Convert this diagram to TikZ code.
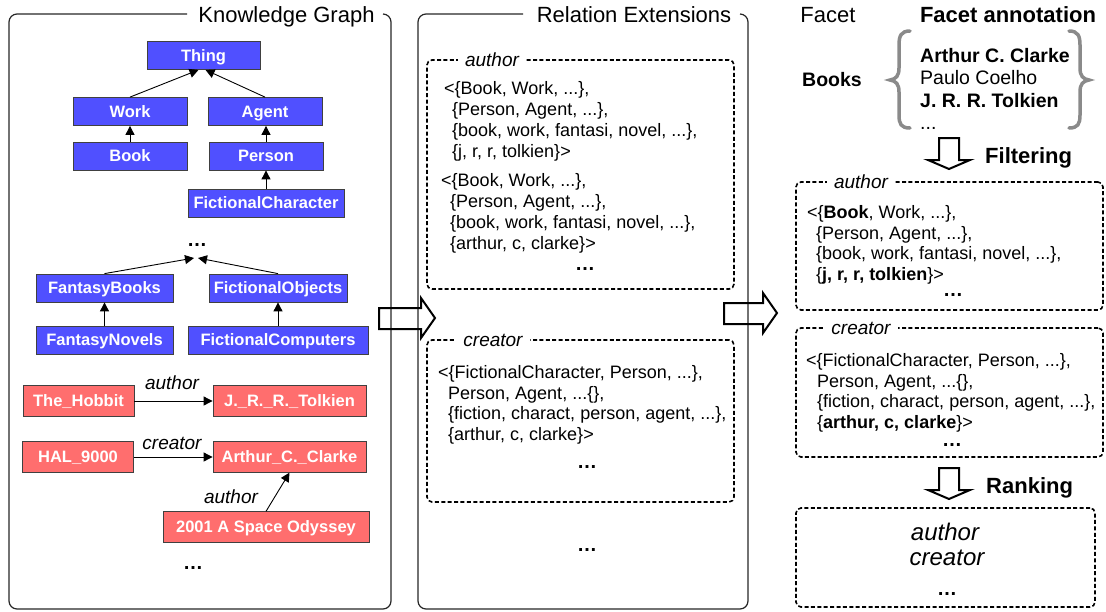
\documentclass[tikz,border=0pt]{standalone}
\usepackage{fontspec}
\setmainfont{Liberation Sans}
\usetikzlibrary{arrows.meta}
\definecolor{classblue}{RGB}{80,80,255}
\definecolor{instred}{RGB}{255,110,110}
\definecolor{bracegray}{RGB}{138,138,138}
% left-aligned stack of lines whose baseline is that of the first line
\newcommand{\relstack}[1]{\begin{tabular}[t]{@{}l@{}}#1\end{tabular}}
\begin{document}
\begin{tikzpicture}[x=1pt,y=-1pt,
  cls/.style={draw=black!75, line width=0.8pt, fill=classblue, text=white,
    font=\fontsize{16.5}{18}\selectfont\bfseries, minimum height=28pt,
    inner sep=0pt, text height=11.8pt, text depth=0pt},
  inst/.style={cls, fill=instred, minimum height=30.5pt},
  isa/.style={-{Triangle[length=9pt,width=9pt]}, line width=0.9pt},
  lbl/.style={inner sep=0pt, font=\fontsize{19}{22}\selectfont\itshape},
  panel/.style={line width=1.2pt, rounded corners=8pt, black!85},
  dbox/.style={draw, line width=1.6pt, dash pattern=on 4pt off 2.4pt,
    rounded corners=5pt, inner sep=0pt},
  boxlabel/.style={fill=white, inner xsep=7pt, inner ysep=1pt,
    font=\fontsize{19}{22}\selectfont\itshape},
  rel/.style={anchor=base west, inner sep=0pt, font=\fontsize{18}{20.5}\selectfont},
  dots/.style={anchor=base, inner sep=0pt, font=\fontsize{20}{24}\selectfont\bfseries},
  title/.style={anchor=base, inner sep=0pt, font=\fontsize{22}{26}\selectfont},
  heading/.style={anchor=base west, inner sep=0pt, font=\fontsize{22}{26}\selectfont\bfseries},
  block/.style={line width=2pt, line join=miter},
  brace/.style={draw=bracegray, line width=3.5pt, line cap=round}]

\useasboundingbox (0,0) rectangle (1106,611);

% ---------------- panel frames and titles ----------------
\draw[panel] (187,14) -- (9,14) -- (9,609) -- (391,609) -- (391,14) -- (383,14);
\node[title] (kgtitle) at (286.5,22) {Knowledge Graph};
\draw[panel] (523,14) -- (418,14) -- (418,609) -- (748,609) -- (748,14) -- (740,14);
\node[title] (retitle) at (634,22) {Relation Extensions};
\node[title] (facettitle) at (828,22) {Facet};
\node[title, font=\fontsize{22}{26}\selectfont\bfseries] (annottitle) at (1008,22) {Facet annotation};

% ---------------- knowledge graph ----------------
\node[cls, minimum width=113pt] (thing) at (203.5,55.5) {Thing};
\node[cls, minimum width=114pt] (work) at (130,111.5) {Work};
\node[cls, minimum width=114pt] (agent) at (265,111.5) {Agent};
\node[cls, minimum width=114pt] (book) at (130,156) {Book};
\node[cls, minimum width=114pt] (person) at (266,156) {Person};
\node[cls, minimum width=156pt] (fchar) at (266,203) {FictionalCharacter};
\node[dots] (kgdots) at (197,246) {…};
\coordinate (kgjoin) at (196,258);
\node[cls, minimum width=137pt] (fbooks) at (104.5,288) {FantasyBooks};
\node[cls, minimum width=138pt] (fobj) at (278,288) {FictionalObjects};
\node[cls, minimum width=137pt] (fnovels) at (104.5,340) {FantasyNovels};
\node[cls, minimum width=180pt] (fcomp) at (278,340) {FictionalComputers};

\draw[isa] (work.north) -- ([xshift=-5pt]thing.south);
\draw[isa] (agent.north) -- ([xshift=2pt]thing.south);
\draw[isa] (book) -- (work);
\draw[isa] (person.north) -- (person.north |- agent.south);
\draw[isa] (fchar.north) -- (fchar.north |- person.south);
\draw[isa] (fbooks.north) -- ([xshift=-2pt]kgjoin);
\draw[isa] (fobj.north) -- ([xshift=2pt]kgjoin);
\draw[isa] (fnovels) -- (fbooks);
\draw[isa] (fcomp.north) -- (fcomp.north |- fobj.south);

\node[inst, minimum width=111pt] (hobbit) at (78.5,401) {The\_Hobbit};
\node[inst, minimum width=153pt] (tolkien) at (289.5,401) {J.\_R.\_R.\_Tolkien};
\node[inst, minimum width=111pt] (hal) at (78,457) {HAL\_9000};
\node[inst, minimum width=153pt] (clarke) at (289.5,457) {Arthur\_C.\_Clarke};
\node[inst, minimum width=206pt] (odyssey) at (266,527) {2001 A Space Odyssey};
\node[dots] (kgdots2) at (193,569) {…};

\draw[isa] (hobbit) -- (tolkien);
\node[lbl] (lauthor1) at (172,383) {author};
\draw[isa] (hal) -- (clarke);
\node[lbl] (lcreator) at (172,443) {creator};
\draw[isa] (odyssey.north) -- (clarke.south);
\node[lbl] (lauthor2) at (231,497) {author};

% ---------------- relation extensions ----------------
\node[dbox, minimum width=307pt, minimum height=229pt] (extauthor) at (580.5,174.5) {};
\node[boxlabel] (extauthorlbl) at (492,60) {author};
\node[rel, font=\fontsize{18}{21}\selectfont] (ea1) at (444,94.5) {\relstack{<\{Book, Work, ...\},\\
  \hspace{8pt}\{Person, Agent, ...\},\\
  \hspace{8pt}\{book, work, fantasi, novel, ...\},\\
  \hspace{8pt}\{j, r, r, tolkien\}>}};
\node[rel, font=\fontsize{18}{21}\selectfont] (ea2) at (441,186.5) {\relstack{<\{Book, Work, ...\},\\
  \hspace{9pt}\{Person, Agent, ...\},\\
  \hspace{9pt}\{book, work, fantasi, novel, ...\},\\
  \hspace{9pt}\{arthur, c, clarke\}>}};
\node[dots] (eadots) at (585,270) {…};

\node[dbox, minimum width=307pt, minimum height=162pt] (extcreator) at (580.5,421) {};
\node[boxlabel] (extcreatorlbl) at (493,340) {creator};
\node[rel] (ec1) at (438,378.5) {\relstack{<\{FictionalCharacter, Person, ...\},\\
  \hspace{10pt}Person, Agent, ...\{\},\\
  \hspace{10pt}\{fiction, charact, person, agent, ...\},\\
  \hspace{10pt}\{arthur, c, clarke\}>}};
\node[dots] (ecdots) at (587,468) {…};
\node[dots] (extdots) at (587,551) {…};

% ---------------- facet annotation ----------------
\node[inner sep=0pt, font=\fontsize{19.5}{23}\selectfont\bfseries] (books) at (832,80) {Books};
\draw[brace] (910,31) .. controls (901,31) and (899,36) .. (899,45) -- (899,68)
  .. controls (899,76) and (896,79) .. (890,80) .. controls (896,81) and (899,84) .. (899,92)
  -- (899,115) .. controls (899,124) and (901,128) .. (910,128);
\draw[brace] (1069,31) .. controls (1078,31) and (1080,36) .. (1080,45) -- (1080,68)
  .. controls (1080,76) and (1083,79) .. (1089,80) .. controls (1083,81) and (1080,84) .. (1080,92)
  -- (1080,115) .. controls (1080,124) and (1078,128) .. (1069,128);
\node[rel, font=\fontsize{19.5}{22.5}\selectfont] (authors) at (920,62) {\relstack{\textbf{Arthur C. Clarke}\\
  Paulo Coelho\\
  \textbf{J. R. R. Tolkien}\\
  ...}};

% Filtering step
\draw[block] (939,138) -- (959,138) -- (959,160) -- (970,160) -- (949,169)
  -- (928,160) -- (939,160) -- cycle;
\node[heading] (filtering) at (985,163) {Filtering};

\node[dbox, minimum width=307pt, minimum height=128pt] (filtauthor) at (949.5,246) {};
\node[boxlabel] (filtauthorlbl) at (861,182) {author};
\node[rel] (fa1) at (807,218.5) {\relstack{<\{\textbf{Book}, Work, ...\},\\
  \hspace{9pt}\{Person, Agent, ...\},\\
  \hspace{9pt}\{book, work, fantasi, novel, ...\},\\
  \hspace{9pt}\{\textbf{j, r, r, tolkien}\}>}};
\node[dots] (fadots) at (953,296) {…};

\node[dbox, minimum width=307pt, minimum height=129pt] (filtcreator) at (949.5,392.5) {};
\node[boxlabel] (filtcreatorlbl) at (861,328) {creator};
\node[rel] (fc1) at (806,366.5) {\relstack{<\{FictionalCharacter, Person, ...\},\\
  \hspace{11pt}Person, Agent, ...\{\},\\
  \hspace{11pt}\{fiction, charact, person, agent, ...\},\\
  \hspace{11pt}\{\textbf{arthur, c, clarke}\}>}};
\node[dots] (fcdots) at (952,446) {…};

% Ranking step
\draw[block] (939,468) -- (959,468) -- (959,490) -- (970,490) -- (949,499)
  -- (928,490) -- (939,490) -- cycle;
\node[heading] (ranking) at (986,493) {Ranking};

\node[dbox, minimum width=299pt, minimum height=99pt] (ranked) at (945.5,557.5) {};
\node[lbl, font=\fontsize{24}{28}\selectfont\itshape] (rauthor) at (945,532) {author};
\node[lbl, font=\fontsize{24}{28}\selectfont\itshape] (rcreator) at (947,558) {creator};
\node[dots] (rdots) at (947,595) {…};

% ---------------- flow arrows between stages ----------------
\draw[block] (379,308) -- (421,308) -- (421,298) -- (435,318) -- (421,338)
  -- (421,329) -- (379,329) -- cycle;
\draw[block] (724,303) -- (763,303) -- (763,293) -- (777,313) -- (763,333)
  -- (763,324) -- (724,324) -- cycle;
\end{tikzpicture}
\end{document}
